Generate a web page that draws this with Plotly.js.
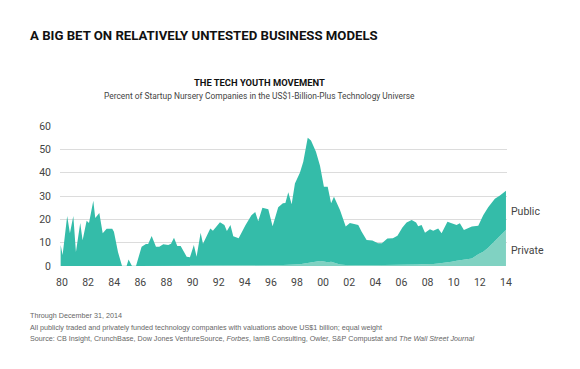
<!DOCTYPE html>
<html>
<head>
<meta charset="utf-8">
<script src="https://cdn.plot.ly/plotly-3.0.1.min.js"></script>
<style>html,body{margin:0;padding:0;background:#fff;}#chart{width:580px;height:369px;}</style>
</head>
<body>
<div id="chart"></div>
<script>
// Decimal years of the points
const years = [1979.9,1980.05,1980.4,1980.61,1980.87,1981.07,1981.4,1981.58,1981.89,1982.07,1982.4,1982.55,1982.86,1983.12,1983.42,1983.85,1983.98,1984.29,1984.6,1984.95,1985.1,1985.36,1985.67,1986.1,1986.43,1986.6,1986.87,1987.2,1987.45,1987.76,1988.14,1988.35,1988.58,1988.83,1989.09,1989.55,1989.8,1990.1,1990.31,1990.62,1990.8,1991.36,1991.56,1992.1,1992.44,1992.63,1992.9,1993.12,1993.53,1994.05,1994.51,1994.8,1995.03,1995.35,1995.8,1996.13,1996.56,1996.92,1997.11,1997.33,1997.59,1997.84,1998.22,1998.48,1998.82,1999.07,1999.45,1999.76,2000.06,2000.35,2000.61,2000.83,2001.29,2001.73,2002.05,2002.57,2002.69,2002.95,2003.33,2003.77,2004.2,2004.5,2004.92,2005.34,2005.69,2006.07,2006.39,2006.78,2007.12,2007.28,2007.54,2007.8,2008.18,2008.43,2008.81,2009.07,2009.52,2009.84,2010.22,2010.47,2010.78,2011.39,2011.88,2012.26,2012.64,2013.15,2013.54,2014.0];

// Private (privately funded) share, percent
const privateShare = [0,0,0,0,0,0,0,0,0,0,0,0,0,0,0,0,0,0,0,0,0,0,0,0,0,0,0,0,0,0,0,0,0,0,0,0,0,0,0,0,0,0,0,0,0,0,0,0,0,0,0,0,0,0,0.2,0.3,0.3,0.4,0.4,0.5,0.5,0.6,0.8,1.0,1.2,1.4,1.8,2.1,1.9,1.6,1.8,1.4,0.6,0.4,0.3,0.3,0.3,0.3,0.3,0.3,0.3,0.3,0.3,0.3,0.4,0.4,0.5,0.5,0.6,0.6,0.7,0.7,0.8,0.9,1.1,1.2,1.5,1.8,2.3,2.5,2.7,3.2,5.0,6.1,7.8,10.5,12.6,15.4];

// Public (publicly traded) share, percent, stacked on top of private
const publicShare = [9,4.7,21.4,14,21.4,6,18.4,11,19.4,18.4,28,20.6,22.7,14,16,16,14.7,6,0,0,2.8,0,0,8.3,9.4,9.4,12.9,8.3,8.3,9.3,9,9.5,12.1,8.6,8.6,4,3.7,9,4,14.3,9.5,16.1,15.1,18.8,17.6,15,17.6,12.8,11.9,17.5,21.7,23.1,19.2,25,24.1,16.7,24.9,26.5,26.6,31.1,26.0,34.8,39.2,43.7,53.8,52.4,47.2,40.9,32.1,32.4,25.1,28.3,23.4,16.5,18.1,17.6,17.3,14.4,10.8,10.6,9.4,9.4,11.5,11.6,12.6,16.1,18.1,19.2,18.0,16.4,16.9,13.6,14.9,14.2,15.0,12.8,17.5,16.5,15.3,15.8,12.7,13.7,12.3,15.7,17.4,18.3,17.6,16.9];

const tickYears = [1980,1982,1984,1986,1988,1990,1992,1994,1996,1998,2000,2002,2004,2006,2008,2010,2012,2014];
const tickLabels = ['80','82','84','86','88','90','92','94','96','98','00','02','04','06','08','10','12','14'];
const yTicks = [0,10,20,30,40,50,60];

const titleText = 'A BIG BET ON RELATIVELY UNTESTED BUSINESS MODELS';
const chartTitle = 'THE TECH YOUTH MOVEMENT';
const chartSubtitle = 'Percent of Startup Nursery Companies in the US$1-Billion-Plus Technology Universe';
const notes = [
  'Through December 31, 2014',
  'All publicly traded and privately funded technology companies with valuations above US$1 billion; equal weight',
  'Source: CB Insight, CrunchBase, Dow Jones VentureSource, <i>Forbes</i>, IamB Consulting, Owler, S&P Compustat and <i>The Wall Street Journal</i>'
];

const traces = [
  {x: years, y: privateShare, name: 'Private', type: 'scatter', mode: 'lines', stackgroup: 'one',
   line: {width: 0}, fillcolor: 'rgb(128,210,194)', hoverinfo: 'skip'},
  {x: years, y: publicShare, name: 'Public', type: 'scatter', mode: 'lines', stackgroup: 'one',
   line: {width: 0}, fillcolor: 'rgb(52,188,169)', hoverinfo: 'skip'}
];

const annotations = [
  {text: '<b>' + titleText + '</b>', xref: 'paper', yref: 'paper', x: -0.0716, y: 1.65, xanchor: 'left', yanchor: 'middle', showarrow: false,
   font: {family: 'Roboto, sans-serif', size: 13.2, color: '#111'}},
  {text: '<b>' + chartTitle + '</b>', xref: 'paper', yref: 'paper', x: 0.4463, y: 1.314, xanchor: 'center', yanchor: 'middle', showarrow: false,
   font: {family: 'Roboto, sans-serif', size: 9.4, color: '#111'}},
  {text: chartSubtitle, xref: 'paper', yref: 'paper', x: 0.4463, y: 1.214, xanchor: 'center', yanchor: 'middle', showarrow: false,
   font: {family: 'Roboto, sans-serif', size: 8.4, color: '#444'}},
  {text: 'Public', xref: 'paper', yref: 'paper', x: 1.0045, y: 0.386, xanchor: 'left', yanchor: 'middle', showarrow: false,
   font: {family: 'Roboto, sans-serif', size: 10.5, color: '#444'}},
  {text: 'Private', xref: 'paper', yref: 'paper', x: 1.0045, y: 0.114, xanchor: 'left', yanchor: 'middle', showarrow: false,
   font: {family: 'Roboto, sans-serif', size: 10.5, color: '#444'}}
];
const noteY = [-0.35, -0.436, -0.521];
notes.forEach((t, i) => annotations.push({text: t, xref: 'paper', yref: 'paper', x: -0.0716, y: noteY[i], xanchor: 'left', yanchor: 'middle',
  showarrow: false, font: {family: 'Liberation Sans, Arial, sans-serif', size: 7.2, color: '#666'}}));

const layout = {
  width: 580, height: 369,
  margin: {l: 60, r: 73, t: 126, b: 103},
  paper_bgcolor: '#fff', plot_bgcolor: '#fff',
  showlegend: false,
  xaxis: {range: [1979.85, 2014.08], tickvals: tickYears, ticktext: tickLabels, showgrid: false, zeroline: false,
          showline: false, ticks: '', ticklabelstandoff: 8, tickfont: {family: 'Roboto, sans-serif', size: 10.5, color: '#444'}, fixedrange: true},
  yaxis: {range: [0, 60], tickvals: yTicks, showgrid: true, gridcolor: '#dcdcdc', gridwidth: 1, zeroline: false,
          showline: false, ticks: '', ticklabelstandoff: 8, tickfont: {family: 'Roboto, sans-serif', size: 10.5, color: '#444'}, fixedrange: true},
  annotations: annotations
};

Plotly.newPlot('chart', traces, layout, {displayModeBar: false, staticPlot: true});
</script>
</body>
</html>
